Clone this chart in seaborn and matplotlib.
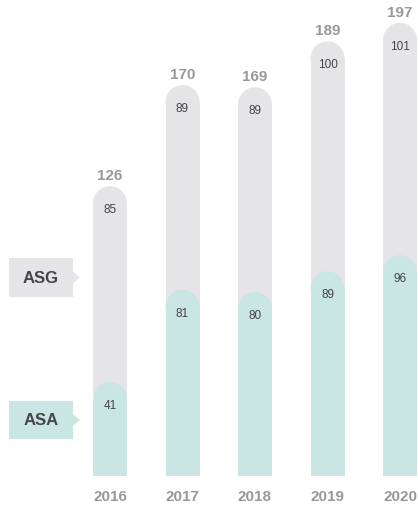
import numpy as np
import pandas as pd
import matplotlib
matplotlib.use("Agg")
import matplotlib.pyplot as plt
import seaborn as sns
from matplotlib.patches import Ellipse, Rectangle, Polygon

# DATI
anni = ["2016", "2017", "2018", "2019", "2020"]
asa = [41, 81, 80, 89, 96]
asg = [85, 89, 89, 100, 101]
totali = [126, 170, 169, 189, 197]

df = pd.DataFrame({"anno": anni, "ASA": asa, "ASG": asg, "totale": totali})

COL_ASG = "#e5e5e8"
COL_ASA = "#c9e6e4"
GRIGIO = "#999999"
SCURO = "#454545"

sns.set_theme(style="white")
plt.rcParams["font.family"] = ["Liberation Sans", "DejaVu Sans"]

W, H = 418, 506
fig = plt.figure(figsize=(W / 100, H / 100), dpi=100)
ax = fig.add_axes([0, 0, 1, 1])

# scala: 72.5 px per categoria, prima barra a x=110 px
px_x = 72.5
# baseline a 29 px dal basso, 2.3 px per unita'
px_y = 2.3

larg = 34 / px_x
sns.barplot(data=df, x="anno", y="totale", color=COL_ASG, width=larg,
            saturation=1, ax=ax, linewidth=0)
sns.barplot(data=df, x="anno", y="ASA", color=COL_ASA, width=larg,
            saturation=1, ax=ax, linewidth=0)
ax.set_xlim(-110 / px_x, (W - 110) / px_x)
ax.set_ylim(-29 / px_y, (H - 29) / px_y)

# barre con la cima arrotondata
r_y = 17 / px_y
for p in list(ax.patches):
    x0, w, h = p.get_x(), p.get_width(), p.get_height()
    c = p.get_facecolor()
    p.remove()
    ax.add_patch(Rectangle((x0, 0), w, h - r_y, facecolor=c, linewidth=0))
    ax.add_patch(Ellipse((x0 + w / 2, h - r_y), w, 2 * r_y, facecolor=c, linewidth=0))

# etichette
off = 23 / px_y
for i in range(len(anni)):
    ax.text(i, totali[i] + 4 / px_y, str(totali[i]), ha="center", va="bottom",
            fontsize=11, fontweight="bold", color=GRIGIO)
    ax.text(i, totali[i] - off, str(asg[i]), ha="center", va="center",
            fontsize=8.5, color=SCURO)
    ax.text(i, asa[i] - off, str(asa[i]), ha="center", va="center",
            fontsize=8.5, color=SCURO)
    ax.text(i, -20 / px_y, anni[i], ha="center", va="center",
            fontsize=11, fontweight="bold", color=GRIGIO)

# legenda a sinistra (box con freccia)
def etichetta(testo, colore, y_top, y_bot):
    yt, yb = 1 - y_top / H, 1 - y_bot / H
    ym = (yt + yb) / 2
    pts = [(9 / W, yt), (73 / W, yt), (73 / W, ym + 6 / H), (80 / W, ym),
           (73 / W, ym - 6 / H), (73 / W, yb), (9 / W, yb)]
    ax.add_patch(Polygon(pts, closed=True, facecolor=colore, linewidth=0,
                         transform=ax.transAxes))
    ax.text(41 / W, ym, testo, transform=ax.transAxes, ha="center", va="center",
            fontsize=12, fontweight="bold", color=SCURO)

etichetta("ASG", COL_ASG, 259, 298)
etichetta("ASA", COL_ASA, 402, 440)

ax.axis("off")
fig.savefig("out.png", dpi=100)
